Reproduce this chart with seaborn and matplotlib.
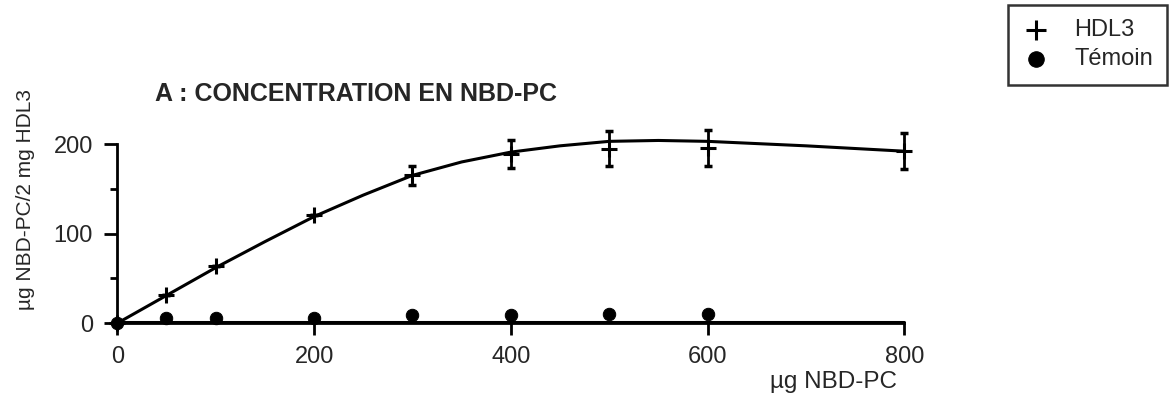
import matplotlib
matplotlib.use("Agg")
import numpy as np
import pandas as pd
import seaborn as sns
from matplotlib import pyplot as plt

# data
dose = [0, 50, 100, 200, 300, 400, 500, 600, 800]
hdl3 = [0, 32, 64, 121, 165, 189, 195, 196, 192]
hdl3_err = [0, 0, 0, 0, 11, 16, 19, 20, 20]

temoin_dose = [0, 50, 100, 200, 300, 400, 500, 600]
temoin = [0, 6, 6, 6, 9, 9, 10, 10]

# fitted curve as drawn on the figure
curve_x = [0, 50, 100, 150, 200, 250, 300, 350, 400, 450, 500, 550, 600, 700, 800]
curve_y = [0, 31, 62, 91, 119, 143, 165, 180, 191, 198, 203, 204, 203, 198, 192]
base_x = [0, 800]
base_y = [1, 1]

sns.set_style("ticks")
plt.rcParams["font.family"] = ["Liberation Sans", "DejaVu Sans"]

fig = plt.figure(figsize=(11.73, 3.99), dpi=100)
ax = fig.add_axes([0.1, 0.19, 0.671, 0.449])

sns.lineplot(x=curve_x, y=curve_y, ax=ax, color="black", linewidth=2.2)
sns.lineplot(x=base_x, y=base_y, ax=ax, color="black", linewidth=2.2)
for line in ax.get_lines():
    line.set_clip_on(False)
ax.errorbar(dose, hdl3, yerr=hdl3_err, fmt="none", ecolor="black",
            elinewidth=2, capsize=3, capthick=2.5, clip_on=False)
sns.scatterplot(x=dose, y=hdl3, ax=ax, marker="+", s=140, color="black",
                linewidth=2.2, clip_on=False, label="HDL3", zorder=5)
sns.scatterplot(x=temoin_dose, y=temoin, ax=ax, marker="o", s=80,
                color="black", edgecolor="black", clip_on=False,
                label="Témoin", zorder=5)

ax.set_xlim(0, 800)
ax.set_ylim(0, 200)
ax.set_xticks([0, 200, 400, 600, 800])
ax.set_yticks([0, 100, 200])
ax.set_yticks([50, 150], minor=True)
ax.tick_params(axis="x", direction="out", length=8.5, width=2, labelsize=17,
               pad=8, color="black")
ax.tick_params(axis="y", which="major", direction="out", length=9.5, width=2,
               labelsize=17, pad=8, color="black")
ax.tick_params(axis="y", which="minor", direction="out", length=5, width=2,
               color="black")
sns.despine(ax=ax)
for side in ["left", "bottom"]:
    ax.spines[side].set_linewidth(2)
    ax.spines[side].set_color("black")

ax.set_xlabel("")
ax.set_ylabel("µg NBD-PC/2 mg HDL3", fontsize=15)
ax.yaxis.set_label_coords(-0.104, 0.69)
fig.text(0.765, 0.015, "µg NBD-PC", fontsize=17.5, ha="right", va="bottom")
fig.text(0.132, 0.764, "A : CONCENTRATION EN NBD-PC", fontsize=18,
         fontweight="bold", ha="left", va="center")

ax.legend(loc="upper right", bbox_to_anchor=(0.995, 0.987),
          bbox_transform=fig.transFigure, fontsize=17, frameon=True,
          fancybox=False, edgecolor="black", handletextpad=1.0,
          borderpad=0.6, borderaxespad=0, handlelength=1.2,
          labelspacing=0.3, markerscale=1.25)
leg = ax.get_legend()
leg.get_frame().set_linewidth(1.8)

fig.savefig("out.png", dpi=100)
